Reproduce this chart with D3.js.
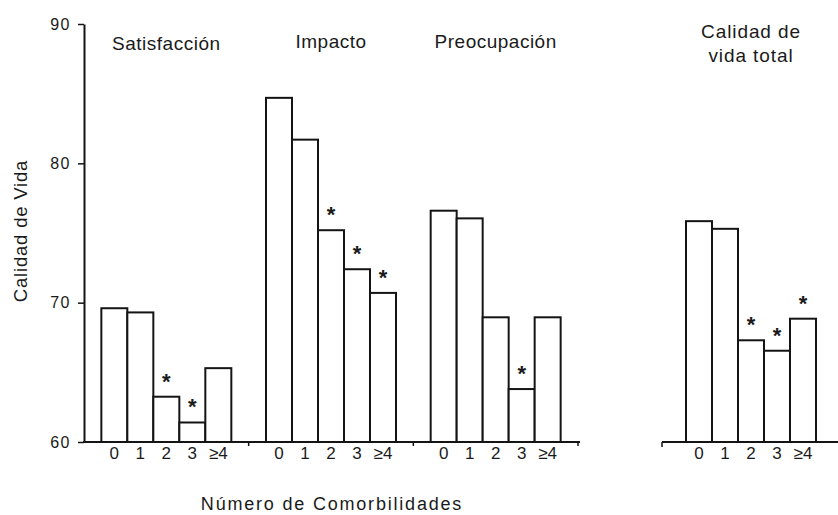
<!DOCTYPE html>
<html>
<head>
<meta charset="utf-8">
<script src="https://cdn.jsdelivr.net/npm/d3@7"></script>
<style>
  body { margin: 0; background: #fff; }
  svg { display: block; font-family: "Liberation Sans", Arial, sans-serif; }
  text { fill: #1a1a1a; }
</style>
</head>
<body>
<svg width="838" height="515"></svg>
<script>
var categories = ["0", "1", "2", "3", "\u22654"],
    groups = ["Satisfacción", "Impacto", "Preocupación"],
    satisfaccion = [69.6, 69.3, 63.25, 61.4, 65.3],
    impacto = [84.7, 81.7, 75.2, 72.4, 70.7],
    preocupacion = [76.6, 76.05, 68.95, 63.8, 68.95],
    total = [75.85, 75.3, 67.3, 66.55, 68.85],
    starsSatisfaccion = ["2", "3"],
    starsImpacto = ["2", "3", "\u22654"],
    starsPreocupacion = ["3"],
    starsTotal = ["2", "3", "\u22654"],
    yTicks = [60, 70, 80, 90];

var svg = d3.select("svg"),
    ink = "#141414";

var y = d3.scaleLinear().domain([60, 90]).range([442, 24]);

// three subscales share one band scale, the total sits on its own axis
var groupX = d3.scaleBand().domain(groups).range([84, 578]);
var totalX = d3.scaleBand().domain(["total"]).range([662, 840]);
var inner = d3.scaleBand().domain(categories)
    .range([0, groupX.bandwidth()])
    .paddingInner(0)
    .paddingOuter(0.667);

var panels = [
  {name: groups[0], x0: groupX(groups[0]), values: satisfaccion, stars: starsSatisfaccion},
  {name: groups[1], x0: groupX(groups[1]), values: impacto, stars: starsImpacto},
  {name: groups[2], x0: groupX(groups[2]), values: preocupacion, stars: starsPreocupacion},
  {name: "total", x0: totalX("total") + (totalX.bandwidth() - groupX.bandwidth()) / 2, values: total, stars: starsTotal}
];

// y axis
var yAxis = svg.append("g")
    .attr("transform", "translate(84,0)")
    .call(d3.axisLeft(y).tickValues(yTicks).tickSize(6).tickSizeOuter(0).tickPadding(7));
yAxis.select(".domain").attr("stroke", ink).attr("stroke-width", 2);
yAxis.selectAll(".tick line").attr("stroke", ink).attr("stroke-width", 1.5);
yAxis.selectAll(".tick text")
    .style("font-size", "16px")
    .style("letter-spacing", "1.5px")
    .attr("fill", "#1a1a1a");

svg.append("text")
    .attr("transform", "translate(27,231) rotate(-90)")
    .attr("text-anchor", "middle")
    .style("font-size", "18.5px")
    .style("letter-spacing", "0.8px")
    .text("Calidad de Vida");

// baselines
var base = svg.append("g").attr("stroke", ink).attr("stroke-width", 2);
base.append("line")
    .attr("x1", 83).attr("x2", groupX.range()[1] + 2)
    .attr("y1", y(60)).attr("y2", y(60));
groups.slice(1).map(function(g) { return groupX(g); })
    .concat([groupX.range()[1]])
    .forEach(function(bx) {
      base.append("line").attr("x1", bx).attr("x2", bx)
          .attr("y1", y(60)).attr("y2", y(60) + 4).attr("stroke-width", 1.5);
    });
base.append("line")
    .attr("x1", totalX.range()[0]).attr("x2", 838)
    .attr("y1", y(60)).attr("y2", y(60));
base.append("line")
    .attr("x1", totalX.range()[0]).attr("x2", totalX.range()[0])
    .attr("y1", y(60)).attr("y2", y(60) + 5).attr("stroke-width", 1.5);

// bars, stars and category labels
panels.forEach(function(p) {
  var g = svg.append("g").attr("transform", "translate(" + p.x0 + ",0)");
  var rows = categories.map(function(c, i) { return {cat: c, value: p.values[i]}; });

  g.selectAll("rect")
    .data(rows)
    .enter().append("rect")
    .attr("x", function(d) { return inner(d.cat); })
    .attr("y", function(d) { return y(d.value); })
    .attr("width", inner.bandwidth())
    .attr("height", function(d) { return y(60) - y(d.value); })
    .attr("fill", "#fff")
    .attr("stroke", ink)
    .attr("stroke-width", 2);

  g.selectAll("text.star")
    .data(rows.filter(function(d) { return p.stars.indexOf(d.cat) >= 0; }))
    .enter().append("text")
    .attr("class", "star")
    .attr("text-anchor", "middle")
    .attr("x", function(d) { return inner(d.cat) + inner.bandwidth() / 2; })
    .attr("y", function(d) { return y(d.value) - 8; })
    .style("font-size", "22px")
    .style("font-weight", "bold")
    .text("*");

  g.selectAll("text.cat")
    .data(categories)
    .enter().append("text")
    .attr("class", "cat")
    .attr("text-anchor", "middle")
    .attr("x", function(d) { return inner(d) + inner.bandwidth() / 2; })
    .attr("y", 459)
    .style("font-size", "17px")
    .text(function(d) { return d; });
});

// panel titles
groups.forEach(function(name, i) {
  svg.append("text")
      .attr("text-anchor", "middle")
      .attr("x", groupX(name) + groupX.bandwidth() / 2)
      .attr("y", i === 0 ? 50 : 48)
      .style("font-size", "19px")
      .style("letter-spacing", "0.5px")
      .text(name);
});
var tt = svg.append("text")
    .attr("text-anchor", "middle")
    .style("font-size", "19px")
    .style("letter-spacing", "0.9px");
tt.append("tspan").attr("x", totalX("total") + totalX.bandwidth() / 2).attr("y", 38).text("Calidad de");
tt.append("tspan").attr("x", totalX("total") + totalX.bandwidth() / 2).attr("y", 62).text("vida total");

svg.append("text")
    .attr("text-anchor", "middle")
    .attr("x", 332)
    .attr("y", 510)
    .style("font-size", "18px")
    .style("letter-spacing", "1.8px")
    .text("Número de Comorbilidades");
</script>
</body>
</html>
